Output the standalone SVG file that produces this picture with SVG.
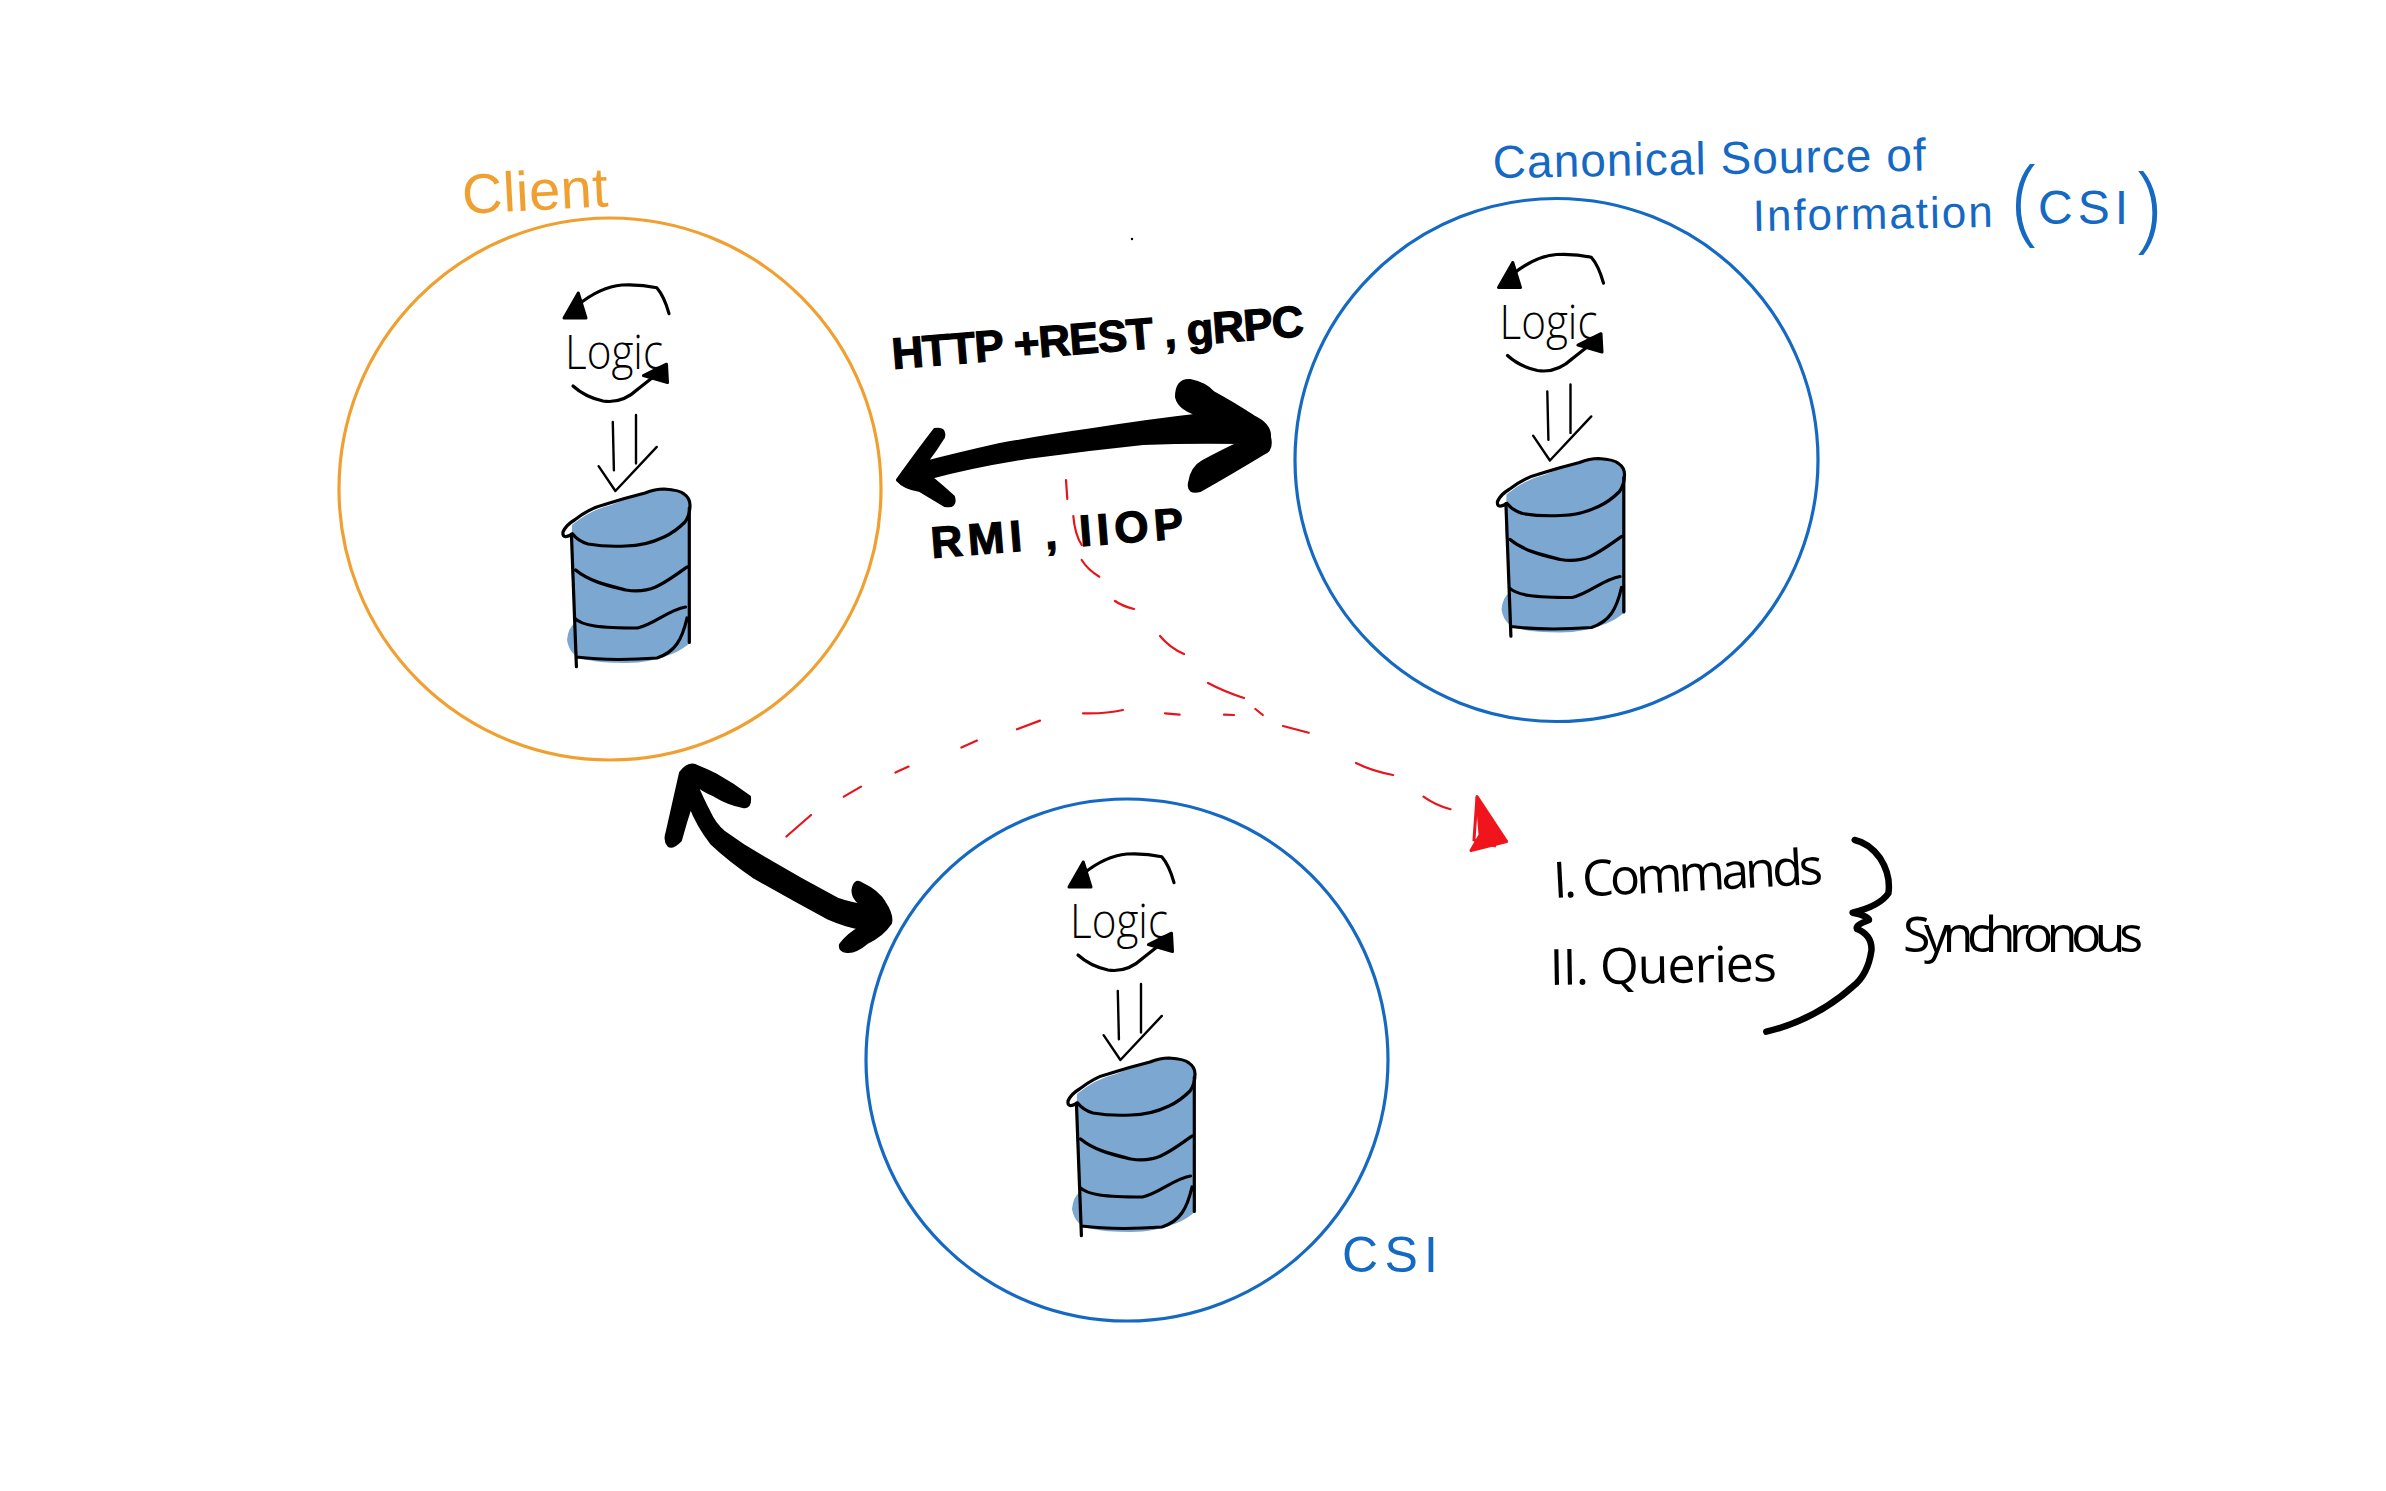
<svg xmlns="http://www.w3.org/2000/svg" width="2386" height="1491" viewBox="0 0 2386 1491">
<style>
text{font-family:"Liberation Sans",Arial,sans-serif}
.ring{fill:none;stroke-width:3.2}
.ink{fill:none;stroke:#000;stroke-width:3.2;stroke-linecap:round;stroke-linejoin:round}
.thin{stroke-width:2.4}
.head{fill:#000;stroke:#000;stroke-width:3;stroke-linejoin:round}
.logic{font-family:"Open Sans","Liberation Sans",sans-serif;font-weight:300;font-size:48px;fill:#000}
.blue{fill:#1569c3}
.hand{font-family:"Open Sans","Liberation Sans",sans-serif;font-size:50px;fill:#000}
.bold{font-weight:700;font-size:44px;fill:#000;stroke:#000;stroke-width:1.2}
.thick{fill:#000;stroke:#000;stroke-width:4;stroke-linejoin:round}
.dash{fill:none;stroke:#e8141c;stroke-width:2.2;stroke-linecap:round}
</style>
<defs>
<g id="store">
<path class="ink" d="M669 313.6Q664 296 656.8 287.8Q640 284 622 285Q600 287 578 305"/>
<path class="head" d="M578.3 293L564 318H586Z"/>
<path class="ink" d="M573 386Q585 397 603 401Q622 404 638 389L657 374"/>
<path class="head" d="M643.4 375.6L666.5 364.2L667.5 382.5Z"/>
<path class="ink thin" d="M612.8 422L613.9 470.3M636 415V463.4M598.6 466.2L615.4 491L656.8 446.9"/>
<path fill="#7ba7d1" d="M572 525Q590 510 611 505Q635 495 657 489Q680 488 689 501L691 642Q682 650 672 654Q650 663 626 663Q600 663 588 660Q570 658 567 640Q568 628 575 623L571 563Z"/>
<path class="ink" d="M572.6 534Q562 540 563 532Q566 525 574.5 520Q590 508 603 505Q625 498 645 493Q655 489 664 489Q680 490 684 494Q690 498 690 505Q690 515 685 522Q675 532 664 537Q645 546 626 546Q605 547 588 544Q578 541 572.6 534"/>
<path class="ink" d="M571.4 534L576.4 666.6M689.3 508V642.5M575.6 570C590 582 610 586 626 590C650 594 662 585 687 567M574.5 618C582 626 600 628 637.6 628C655 624 668 610 685.5 607M576.4 657C600 660 630 660 657 658C675 652 682 640 687 618"/>
</g>
</defs>
<g id="connectors">
<path class="thick" d="M898 480Q918 452 935 430Q945 428 943 437Q935 450 925 463Q960 454 1000 445Q1050 436 1093 430Q1150 421 1203 415Q1180 410 1177 397Q1177 380 1190 381Q1205 384 1213 393Q1235 405 1253 417Q1270 425 1269 437Q1272 450 1263 453Q1230 473 1200 490Q1188 493 1190 483Q1192 468 1203 462Q1225 450 1243 442Q1190 441 1143 443Q1085 449 1027 457Q975 465 930 477Q942 487 953 497Q956 507 945 505Q930 496 920 490Q905 488 898 480Z"/>
<path class="thick" d="M681 773Q688 764 695 766Q705 770 715 775Q733 785 749 797Q750 808 743 806Q728 803 715 795Q703 790 695 783Q702 800 709 813Q714 824 723 832Q742 846 763 858Q800 880 838 900Q852 905 867 906.6Q853 900 853.5 890Q855 880 861 884Q878 892 884 903Q892 915 890 923Q882 935 867 942Q855 952 847 951Q840 950 841 945Q848 935 861 928Q845 925 829 918Q790 897 755 877Q730 860 712 843Q698 825 690.5 805Q685 822 680 840Q672 848 669 845Q665 840 667.5 833Q675 800 681 773Z"/>
<path class="dash" d="M1066 480L1067.3 499M1073.3 516Q1075 535 1081.7 545M1081.7 560Q1088 570 1099.3 576.7M1115 601Q1122 606 1134 609M1160 636Q1170 648 1184 654M1208 683Q1225 692 1244 698M1255.4 709L1262.8 715M1283 726L1308.7 732.7M1356 763Q1372 771 1393 775M1423.5 796.6Q1435 805 1450.5 809.3"/>
<path class="dash" d="M786.4 836.5L811 815M843.8 796.6L861 786.6M895.4 772.6L908.6 766.6M961.4 747.6L977 740.6M1017 729.3L1040 720.6M1083 713.3Q1105 714 1123 710M1165 713.3L1179.6 714.6M1224 714.6L1234 715"/>
<path fill="#f0141c" stroke="#f0141c" stroke-width="3" stroke-linejoin="round" d="M1477 796.6L1506.7 841.6L1471 850.6L1480 835Z"/>
<path fill="none" stroke="#f0141c" stroke-width="3" d="M1477 797L1474 840L1496 846"/>
</g>
<g id="node-client">
<circle class="ring" cx="610" cy="489" r="271" stroke="#f0a030"/>
<use href="#store"/>
<text class="logic" x="565" y="369" textLength="98" lengthAdjust="spacingAndGlyphs">Logic</text>
<text x="463" y="214" font-size="56" fill="#f0a030" textLength="146" lengthAdjust="spacing" transform="rotate(-3 463 214)">Client</text>
</g>
<g id="node-source">
<circle class="ring" cx="1556.5" cy="460" r="261.5" stroke="#1569c3"/>
<use href="#store" transform="translate(934.5 -30.5)"/>
<text class="logic" x="1499.5" y="338.5" textLength="98" lengthAdjust="spacingAndGlyphs">Logic</text>
<text class="blue" x="1493" y="178" font-size="46" textLength="433" lengthAdjust="spacing" transform="rotate(-1 1493 178)">Canonical Source of</text>
<text class="blue" x="1753" y="231" font-size="44" textLength="240" lengthAdjust="spacing" transform="rotate(-1 1753 231)">Information</text>
<text class="blue" y="224" font-size="48"><tspan x="2012" y="233" font-size="96" font-family="'Open Sans','Liberation Sans',sans-serif" font-weight="300">(</tspan><tspan x="2038" y="224" letter-spacing="5">CSI</tspan><tspan x="2135" y="240" font-size="96" font-family="'Open Sans','Liberation Sans',sans-serif" font-weight="300">)</tspan></text>
</g>
<g id="node-csi">
<circle class="ring" cx="1127" cy="1060" r="261" stroke="#1569c3"/>
<use href="#store" transform="translate(505 569)"/>
<text class="logic" x="1070" y="938" textLength="98" lengthAdjust="spacingAndGlyphs">Logic</text>
<text class="blue" x="1342" y="1272" font-size="50" textLength="96" lengthAdjust="spacing">CSI</text>
</g>
<g id="labels">
<text class="bold" x="893" y="369" textLength="413" lengthAdjust="spacing" transform="rotate(-4.6 893 369)">HTTP +REST , gRPC</text>
<text class="bold" x="932" y="558" textLength="253" lengthAdjust="spacing" transform="rotate(-4.5 932 558)">RMI , IIOP</text>
<text class="hand" x="1554" y="898" font-size="42" textLength="270" lengthAdjust="spacing" transform="rotate(-3 1554 898)">I. Commands</text>
<text class="hand" x="1550" y="985" textLength="227" lengthAdjust="spacing" transform="rotate(-1 1550 985)">II. Queries</text>
<text class="hand" x="1903" y="952" font-size="40" textLength="240" lengthAdjust="spacing">Synchronous</text>
<path fill="none" stroke="#000" stroke-width="6.5" stroke-linecap="round" stroke-linejoin="round" d="M1854.7 840Q1869 843 1880 858Q1891 875 1888.4 893.3Q1880 906 1852.6 912.7Q1869 916 1869 920Q1855 925 1857 929Q1872 935 1871.5 950Q1868 975 1852.6 986.7Q1815 1020 1766.3 1031.7"/>
<circle cx="1132" cy="239" r="1.2" fill="#000"/>
</g>
</svg>
